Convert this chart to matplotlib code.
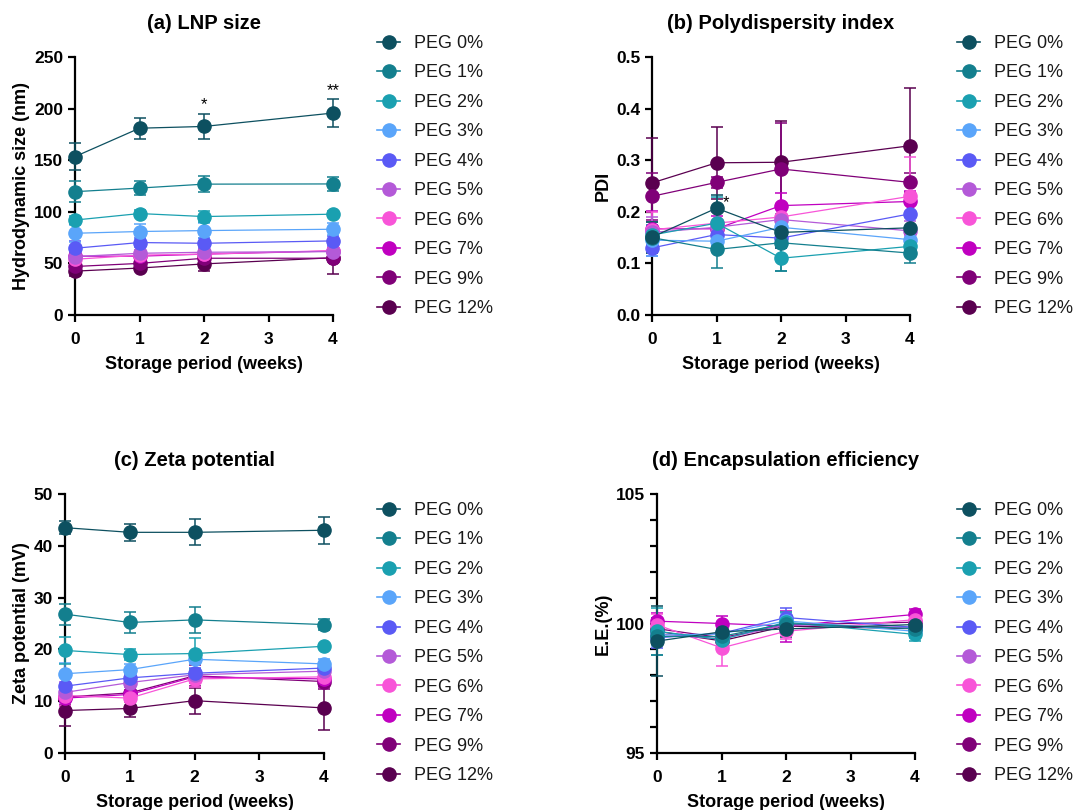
import numpy as np
import matplotlib
matplotlib.use('Agg')
from matplotlib import pyplot as plt
from matplotlib.ticker import MultipleLocator, FormatStrFormatter
from matplotlib.lines import Line2D

plt.rcParams['font.family'] = ['Liberation Sans', 'DejaVu Sans']

weeks = [0, 1, 2, 4]
groups = ['PEG 0%', 'PEG 1%', 'PEG 2%', 'PEG 3%', 'PEG 4%',
          'PEG 5%', 'PEG 6%', 'PEG 7%', 'PEG 9%', 'PEG 12%']
colors = ['#0d5060', '#137f8e', '#1aa0b0', '#5aa5fa', '#5a5af5',
          '#b45ad8', '#f855d8', '#c000c0', '#800078', '#5a0050']

# LNP size (nm)
size_mean = [[153.5, 181, 182.7, 195.7],
             [119.5, 123, 126.8, 127],
             [92, 98.3, 95.4, 97.7],
             [79.2, 80.9, 81.8, 83.1],
             [64.7, 70.2, 69.5, 71.8],
             [56.6, 59.8, 60.8, 61.4],
             [54, 58, 59, 62.4],
             [57, 57, 59, 62],
             [47, 50, 55, 55],
             [42.5, 45.5, 49.5, 55.5]]
size_err = [[13, 10, 12, 14], [10, 7, 8, 7], [4, 3, 5, 3], [8, 7, 7, 6],
            [7, 4, 5, 5], [4, 3, 3, 4], [4, 3, 3, 3], [3, 3, 3, 3],
            [4, 3, 4, 3], [5, 3, 7, 16]]

# polydispersity index
pdi_mean = [[0.151, 0.207, 0.160, 0.169],
            [0.150, 0.127, 0.140, 0.120],
            [0.155, 0.178, 0.110, 0.133],
            [0.145, 0.143, 0.170, 0.146],
            [0.130, 0.156, 0.149, 0.196],
            [0.160, 0.170, 0.185, 0.163],
            [0.165, 0.178, 0.190, 0.230],
            [0.167, 0.167, 0.212, 0.220],
            [0.230, 0.257, 0.283, 0.257],
            [0.256, 0.295, 0.296, 0.328]]
pdi_err = [[0.03, 0.025, 0.03, 0.02], [0.03, 0.035, 0.055, 0.02],
           [0.02, 0.05, 0.025, 0.015], [0.03, 0.02, 0.02, 0.02],
           [0.015, 0.02, 0.02, 0.03], [0.03, 0.03, 0.02, 0.02],
           [0.035, 0.025, 0.025, 0.077], [0.035, 0.025, 0.025, 0.02],
           [0.045, 0.01, 0.09, 0.018], [0.087, 0.07, 0.08, 0.112]]

# zeta potential (mV)
zeta_mean = [[43.5, 42.6, 42.6, 43.0],
             [26.8, 25.2, 25.7, 24.8],
             [19.8, 19.0, 19.2, 20.6],
             [15.3, 16.1, 18.1, 17.2],
             [12.9, 14.5, 15.4, 16.4],
             [11.7, 13.6, 15.1, 15.8],
             [11.1, 10.6, 14.3, 14.7],
             [10.6, 11.3, 14.7, 14.3],
             [10.8, 11.6, 14.9, 13.8],
             [8.2, 8.6, 10.1, 8.7]]
zeta_err = [[1.3, 1.6, 2.5, 2.6], [2, 2, 2.5, 1], [2.6, 1, 3, 0.5],
            [2, 1, 1, 1], [2, 1, 1, 1], [2, 1.5, 1, 1], [2, 1.5, 1.5, 1.5],
            [1.5, 1.5, 1.2, 1.5], [1.5, 1.5, 2, 1.5], [3, 1.7, 2.5, 4.2]]

# encapsulation efficiency (%)
ee_mean = [[99.32, 99.68, 99.79, 99.96],
           [99.50, 99.50, 100.00, 99.80],
           [99.70, 99.38, 100.05, 99.58],
           [99.55, 99.60, 100.10, 99.70],
           [99.45, 99.62, 100.23, 99.85],
           [99.60, 99.40, 99.95, 99.85],
           [99.95, 99.06, 99.70, 100.15],
           [100.09, 100.00, 99.90, 100.35],
           [99.80, 99.45, 99.95, 100.05],
           [99.70, 99.33, 99.90, 99.80]]
ee_err = [[1.35, 0.3, 0.3, 0.25], [0.7, 0.3, 0.3, 0.2], [0.9, 0.3, 0.4, 0.25],
          [0.4, 0.3, 0.3, 0.25], [0.4, 0.2, 0.35, 0.2], [0.4, 0.3, 0.3, 0.2],
          [0.4, 0.7, 0.3, 0.2], [0.3, 0.3, 0.6, 0.2], [0.4, 0.3, 0.3, 0.2],
          [0.5, 0.3, 0.3, 0.2]]

W, H = 1078, 810
fig = plt.figure(figsize=(W / 100, H / 100), dpi=100)


def px_axes(x0, x1, y_top, y_bot):
    return fig.add_axes([x0 / W, 1 - y_bot / H, (x1 - x0) / W, (y_bot - y_top) / H])


def panel(ax, means, errs, title, ylabel, ylim, ystep, leg_xy):
    # draw the last group first so PEG 0% sits on top
    for i in reversed(range(len(groups))):
        ax.errorbar(weeks, means[i], yerr=errs[i], fmt='-o', color=colors[i],
                    lw=0.9, ms=9.5, elinewidth=1.1, capsize=4.5, capthick=1.1,
                    clip_on=False, zorder=3)
    ax.set_xlim(0, 4)
    ax.set_ylim(*ylim)
    ax.set_xticks([0, 1, 2, 3, 4])
    ax.yaxis.set_major_locator(MultipleLocator(ystep))
    for s in ['top', 'right']:
        ax.spines[s].set_visible(False)
    for s in ['left', 'bottom']:
        ax.spines[s].set_linewidth(1.6)
    ax.tick_params(width=1.6, length=5, labelsize=12.5)
    ax.tick_params(axis='x', pad=7)
    for lab in ax.get_xticklabels() + ax.get_yticklabels():
        lab.set_fontweight('bold')
    ax.set_title(title, fontsize=14.5, fontweight='bold', pad=20)
    ax.set_xlabel('Storage period (weeks)', fontsize=13, fontweight='bold', labelpad=7)
    ax.set_ylabel(ylabel, fontsize=13, fontweight='bold', labelpad=3)
    handles = [Line2D([], [], color=c, lw=1.2, marker='o', ms=9.5) for c in colors]
    leg = ax.legend(handles, groups, loc='upper left',
                    bbox_to_anchor=(leg_xy[0] / W, 1 - leg_xy[1] / H),
                    bbox_transform=fig.transFigure, frameon=False,
                    fontsize=13, handlelength=1.3, handletextpad=0.75,
                    labelspacing=0.69, borderpad=0, borderaxespad=0)
    for t in leg.get_texts():
        t.set_color('#1a1a1a')


ax_a = px_axes(75, 333, 57, 315)
panel(ax_a, size_mean, size_err, '(a) LNP size', 'Hydrodynamic size (nm)',
      (0, 250), 50, (377, 35))
ax_a.text(2, 197, '*', ha='center', va='bottom', fontsize=12)
ax_a.text(4, 210, '**', ha='center', va='bottom', fontsize=12)

ax_b = px_axes(652, 910, 57, 315)
panel(ax_b, pdi_mean, pdi_err, '(b) Polydispersity index', 'PDI',
      (0, 0.5), 0.1, (957, 35))
ax_b.yaxis.set_major_formatter(FormatStrFormatter('%.1f'))
ax_b.text(1.1, 0.203, '*', ha='left', va='bottom', fontsize=12)

ax_c = px_axes(65, 324, 494, 753)
panel(ax_c, zeta_mean, zeta_err, '(c) Zeta potential', 'Zeta potential (mV)',
      (0, 50), 10, (377, 502))

ax_d = px_axes(657, 915, 494, 753)
panel(ax_d, ee_mean, ee_err, '(d) Encapsulation efficiency', 'E.E.(%)',
      (95, 105), 5, (957, 502))
ax_d.yaxis.set_minor_locator(MultipleLocator(1))
ax_d.tick_params(which='minor', width=1.6, length=5)

fig.savefig('out.png', dpi=100)
